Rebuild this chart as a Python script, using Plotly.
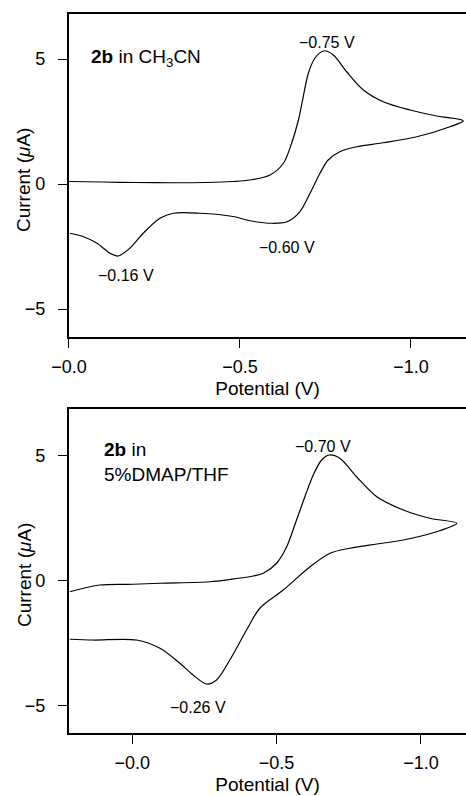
import plotly.graph_objects as go

# Top panel: 2b in CH3CN (potential V, current uA), one closed CV loop
top_v = [0.0, -0.1, -0.2, -0.3, -0.4, -0.48, -0.529, -0.588, -0.627, -0.651, -0.671, -0.685, -0.700,
         -0.719, -0.746, -0.773, -0.812, -0.861, -0.919, -0.997, -1.075, -1.153,
         -1.114, -1.017, -0.919, -0.841, -0.792, -0.758, -0.734, -0.705, -0.675, -0.637,
         -0.593, -0.529, -0.48, -0.383, -0.305, -0.266, -0.217, -0.178, -0.144, -0.12,
         -0.082, -0.041, -0.003]
top_i = [0.1, 0.08, 0.06, 0.05, 0.06, 0.1, 0.16, 0.36, 0.83, 1.63, 2.56, 3.49, 4.43,
         5.03, 5.33, 5.16, 4.49, 3.76, 3.29, 2.96, 2.72, 2.53,
         2.29, 1.89, 1.65, 1.49, 1.29, 0.96, 0.43, -0.37, -1.11, -1.51,
         -1.57, -1.47, -1.3, -1.17, -1.17, -1.37, -1.97, -2.57, -2.88, -2.77,
         -2.37, -2.1, -1.97]

# Bottom panel: 2b in 5%DMAP/THF
bot_v = [0.216, 0.112, -0.003, -0.096, -0.269, -0.338, -0.419, -0.454, -0.5, -0.535, -0.569,
         -0.598, -0.627, -0.656, -0.682, -0.719, -0.777, -0.847, -0.939, -1.031, -1.124,
         -1.054, -0.939, -0.847, -0.754, -0.685, -0.616, -0.523, -0.442,
         -0.396, -0.338, -0.292, -0.258, -0.211, -0.165, -0.096, -0.015,
         0.135, 0.216]
bot_i = [-0.44, -0.17, -0.14, -0.1, -0.04, 0.05, 0.19, 0.3, 0.7, 1.36, 2.43,
         3.36, 4.23, 4.83, 5.03, 4.9, 4.16, 3.36, 2.83, 2.5, 2.3,
         1.96, 1.63, 1.47, 1.3, 1.1, 0.56, -0.37, -1.1,
         -1.97, -3.17, -3.97, -4.13, -3.77, -3.3, -2.7, -2.37,
         -2.37, -2.34]

x_tickvals = [0.0, -0.5, -1.0]
x_ticktext = ["\u22120.0", "\u22120.5", "\u22121.0"]
y_tickvals = [-5, 0, 5]
y_ticktext = ["\u22125", "0", "5"]

top_labels = [("\u22120.75 V", -0.755, 5.65), ("\u22120.60 V", -0.638, -2.55), ("\u22120.16 V", -0.167, -3.65)]
bot_labels = [("\u22120.70 V", -0.661, 5.35), ("\u22120.26 V", -0.227, -5.05)]

FONT = "Liberation Sans, Arial, Helvetica, sans-serif"

fig = go.Figure()
fig.add_trace(go.Scatter(x=top_v, y=top_i, mode="lines", line=dict(color="black", width=1.2, shape="spline", smoothing=0.9),
                         xaxis="x", yaxis="y", showlegend=False, hoverinfo="skip"))
fig.add_trace(go.Scatter(x=bot_v, y=bot_i, mode="lines", line=dict(color="black", width=1.2, shape="spline", smoothing=0.9),
                         xaxis="x2", yaxis="y2", showlegend=False, hoverinfo="skip"))

axis_common = dict(showline=True, linecolor="black", linewidth=2, ticks="outside", ticklen=9, tickwidth=1.2,
                   tickcolor="black", showgrid=False, zeroline=False, automargin=False,
                   tickfont=dict(size=18, color="black", family=FONT))

xtitle = dict(text="Potential (V)", font=dict(size=19, family=FONT), standoff=6)

fig.update_layout(
    width=466, height=796,
    margin=dict(l=0, r=0, t=0, b=0),
    plot_bgcolor="white", paper_bgcolor="white",
    font=dict(family=FONT, color="black"),
    xaxis=dict(domain=[0.148, 1.0], range=[0.0, -1.161], anchor="y", mirror=True,
               tickvals=x_tickvals, ticktext=x_ticktext, ticklabelstandoff=3,
               title=xtitle, **axis_common),
    yaxis=dict(domain=[0.5766, 0.9824], range=[-6.12, 6.8], anchor="x",
               tickvals=y_tickvals, ticktext=y_ticktext, ticklabelstandoff=9, **axis_common),
    xaxis2=dict(domain=[0.148, 1.0], range=[0.219, -1.156], anchor="y2", mirror=True,
                tickvals=x_tickvals, ticktext=x_ticktext, ticklabelstandoff=3,
                title=xtitle, **axis_common),
    yaxis2=dict(domain=[0.0791, 0.4862], range=[-6.09, 6.87], anchor="x2",
                tickvals=y_tickvals, ticktext=y_ticktext, ticklabelstandoff=9, **axis_common),
)

# y axis titles placed as rotated annotations (they overlap the tick-label column horizontally)
for ycen in [1 - 180 / 796, 1 - 575 / 796]:
    fig.add_annotation(x=24 / 466, y=ycen, xref="paper", yref="paper", text="Current (<i>\u03bc</i>A)",
                       textangle=-90, showarrow=False, xanchor="center", yanchor="middle",
                       font=dict(size=19, color="black", family=FONT))

for text, xv, yv in top_labels:
    fig.add_annotation(x=xv, y=yv, xref="x", yref="y", text=text, showarrow=False,
                       font=dict(size=16, color="black", family=FONT))
for text, xv, yv in bot_labels:
    fig.add_annotation(x=xv, y=yv, xref="x2", yref="y2", text=text, showarrow=False,
                       font=dict(size=16, color="black", family=FONT))

fig.add_annotation(x=-0.058, y=5.05, xref="x", yref="y", text="<b>2b</b> in CH<sub>3</sub>CN", showarrow=False,
                   xanchor="left", font=dict(size=19, color="black", family=FONT))
fig.add_annotation(x=0.106, y=5.0, xref="x2", yref="y2", text="<b>2b</b> in<br>5%DMAP/THF", showarrow=False,
                   xanchor="left", yanchor="middle", align="left", yshift=-6,
                   font=dict(size=19, color="black", family=FONT))

fig.write_html("out.html")
